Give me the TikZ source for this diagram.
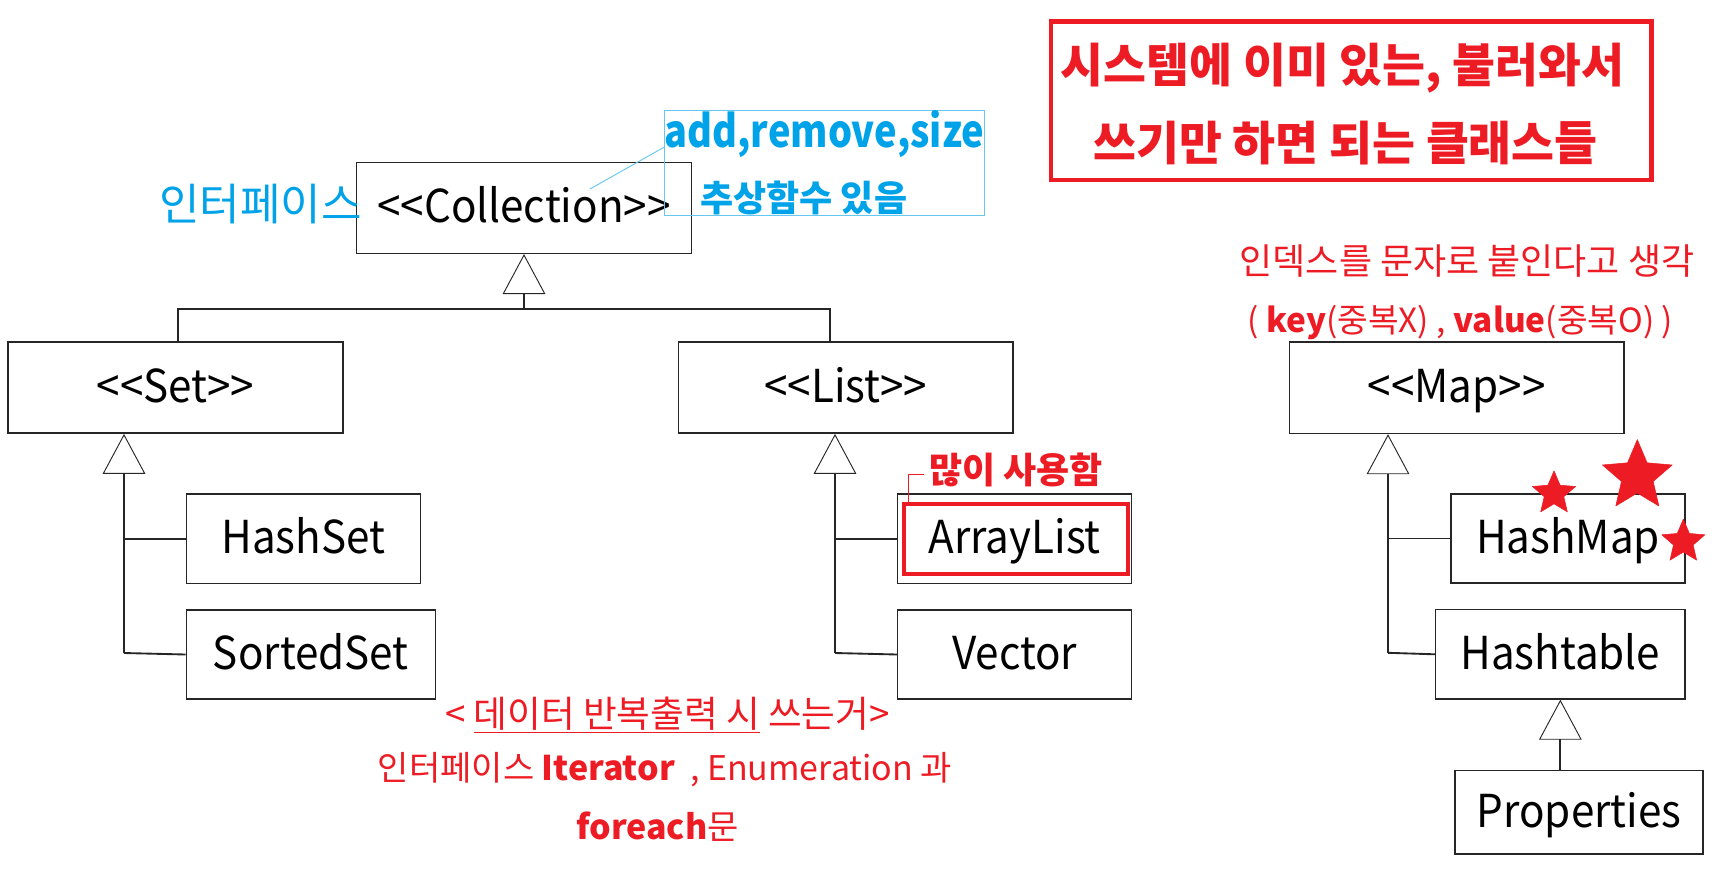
\documentclass[tikz,border=0pt]{standalone}
\usepackage{fontspec}
\setmainfont{Noto Sans CJK KR}
\newfontfamily\boxfont{Noto Sans CJK KR}[FakeStretch=0.93]
\newfontfamily\narrowfont{Noto Sans CJK KR}[FakeStretch=0.85]
\usepackage{tikz}
\usetikzlibrary{positioning, shapes.geometric, arrows.meta}
\definecolor{hotred}{HTML}{ED1C24}
\definecolor{ifblue}{HTML}{00A2E8}

\begin{document}
\begin{tikzpicture}[
    x=0.75pt, y=-0.75pt,
    cls/.style={draw=black!85, line width=1.1pt, rectangle, inner sep=0pt, minimum width=251pt, minimum height=68.5pt, text height=22.4pt, text depth=0pt, font=\boxfont\fontsize{34}{40}\selectfont},
    sub/.style={cls, minimum width=175.5pt, minimum height=67pt},
    link/.style={line width=1.4pt, black!85},
    gen/.style={link, -{Triangle[open, length=30pt, width=32pt, line width=0.7pt]}},
    hot/.style={text=hotred, font=\bfseries\fontsize{27}{32}\selectfont},
    memo/.style={text=hotred, font=\fontsize{27}{32}\selectfont},
    hotstar/.style={star, star points=5, star point ratio=2.2, fill=hotred, draw=hotred, line join=round, inner sep=0pt}
]
\useasboundingbox (0,0) rectangle (1723,879);

% Oberste Schnittstelle
\node[cls, minimum height=68.3pt] (coll) at (524,207.8) {<{}<Collection>{}>};
\node[text=ifblue, font=\fontsize{33}{38}\selectfont] (iflabel) at (260.5,204.5) {인터페이스};

% Notiz zu Collection
\node[draw=ifblue!60, line width=0.7pt, minimum width=239.8pt, minimum height=78.2pt, inner sep=0pt] (note) at (824.75,162.85) {};
\node[text=ifblue, font=\narrowfont\bfseries\fontsize{33.5}{40}\selectfont, anchor=base] (ops) at (824.5,147) {add,remove,size};
\node[text=ifblue, font=\bfseries\fontsize{27}{32}\selectfont] (abstr) at (803.7,197.5) {추상함수 있음};
\coordinate (colltip) at (590,189);
\draw[ifblue!60, line width=0.7pt] (note.west |- ops.base) -- (colltip);

% Schnittstellen Set, List, Map
\node[cls] (set) at (175.5,387.5) {<{}<Set>{}>};
\node[cls] (list) at (845.8,387.5) {<{}<List>{}>};
\node[cls] (map) at (1456.7,387.8) {<{}<Map>{}>};

% Collection -> Set, List
\coordinate (barL) at (178,309);
\coordinate (barR) at (830,309);
\draw[link] (barL |- set.north) -- (barL) -- (barR) -- (barR |- list.north);
\draw[gen] (coll.south |- barL) -- (coll.south);

% Set
\node[sub] (hashset) at (303.3,538.7) {HashSet};
\node[sub, minimum width=186.8pt, below=18.75pt of hashset.south west, anchor=north west] (sortedset) {SortedSet};
\coordinate (setT) at (124,653);
\draw[gen] (setT) -- (setT |- set.south);
\draw[link] (setT |- hashset.west) -- (hashset.west);
\draw[link] (setT) -- (sortedset.west);

% List
\node[sub] (arraylist) at (1014.7,538.7) {ArrayList};
\node[sub, below=18.75pt of arraylist] (vector) {Vector};
\coordinate (listT) at (835,653);
\draw[gen] (listT) -- (listT |- list.south);
\draw[link] (listT |- arraylist.west) -- (arraylist.west);
\draw[link] (listT) -- (vector.west);
\node[draw=hotred, line width=3pt, minimum width=167.5pt, minimum height=52.7pt, inner sep=0pt] (arrayhot) at (1016,539.2) {};
\node[hot] (hotnote) at (1016,470) {많이 사용함};
\coordinate (hotknee) at (908,474);
\draw[hotred, line width=0.7pt] (hotnote.west |- hotknee) -- (hotknee) -- (hotknee |- arrayhot.north);

% Map
\node[sub] (hashmap) at (1568,538.5) {HashMap};
\node[sub, minimum width=187pt, below=18.75pt of hashmap.south east, anchor=north east] (hashtable) {Hashtable};
\node[sub, minimum width=186pt, minimum height=62.8pt] (props) at (1579,812.2) {Properties};
\coordinate (mapT) at (1388,652.8);
\draw[gen] (mapT) -- (mapT |- map.south);
\draw[link] (mapT |- hashmap.west) -- (hashmap.west);
\draw[link] (mapT) -- (hashtable.west);
\draw[gen] (hashtable.south |- props.north) -- (hashtable.south);

% Sterne
\node[hotstar, minimum size=34pt] (star1) at (1554,493.5) {};
\node[hotstar, minimum size=55pt] (star2) at (1637.3,476.3) {};
\node[hotstar, minimum size=34pt] (star3) at (1683.3,541.8) {};

% Hinweise
\node[draw=hotred, line width=3.4pt, minimum width=450.5pt, minimum height=118.7pt, inner sep=0pt] (sysbox) at (1351.15,100.85) {};
\node[text=hotred, font=\bfseries\fontsize{35}{40}\selectfont] (sys1) at (1342.6,68) {시스템에 이미 있는, 불러와서};
\node[text=hotred, font=\bfseries\fontsize{35}{40}\selectfont] (sys2) at (1345.6,143) {쓰기만 하면 되는 클래스들};
\node[memo] (mapnote) at (1467,261) {인덱스를 문자로 붙인다고 생각};
\node[memo, font=\fontsize{25}{30}\selectfont] (mapkv) at (1460.5,322.5) {( \textbf{key}(중복X) , \textbf{value}(중복O) )};

\node[memo, font=\fontsize{27.5}{32}\selectfont] (iter1) at (667.5,715) {< \underline{데이터 반복출력 시} 쓰는거>};
\node[memo, font=\fontsize{25.5}{30}\selectfont] (iter2) at (665,770) {인터페이스 \textbf{Iterator}\ \ , Enumeration 과};
\node[memo, font=\fontsize{25.5}{30}\selectfont] (iter3) at (657.5,827) {\textbf{foreach}문};

\end{tikzpicture}
\end{document}
